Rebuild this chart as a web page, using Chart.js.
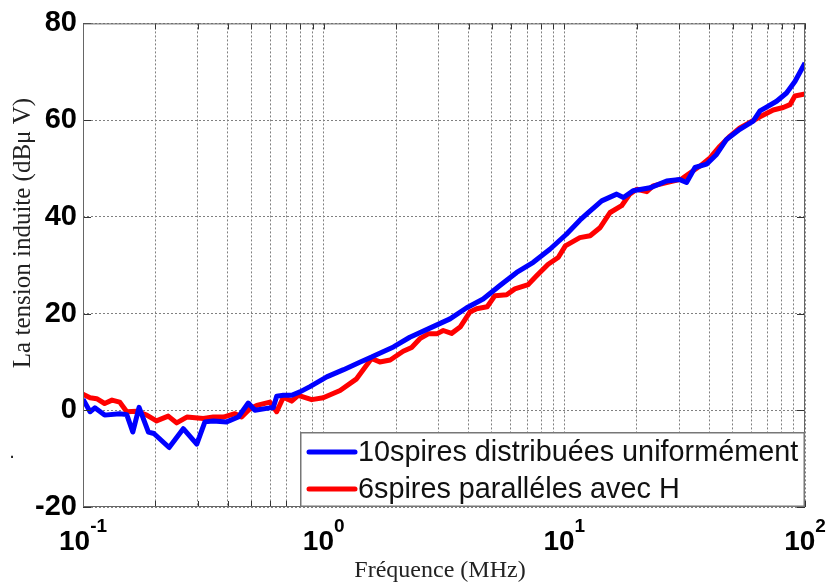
<!DOCTYPE html>
<html>
<head>
<meta charset="utf-8">
<script src="https://cdn.jsdelivr.net/npm/chart.js@4"></script>
<style>
  body { margin: 0; background: #fff; }
  canvas { display: block; }
</style>
</head>
<body>
<canvas id="myChart" width="830" height="585"></canvas>
<script>
// frequency (MHz) / induced voltage (dBuV) for the two coil layouts
const blueFreq = [0.100, 0.107, 0.112, 0.123, 0.142, 0.152, 0.161, 0.171, 0.187, 0.197,
  0.228, 0.261, 0.297, 0.321, 0.348, 0.395, 0.442, 0.486, 0.518, 0.598,
  0.617, 0.638, 0.680, 0.736, 0.797, 0.877, 1.03, 1.21, 1.42, 1.58,
  1.95, 2.28, 2.85, 3.35, 3.93, 4.60, 5.40, 6.34, 7.43, 8.71,
  10.2, 11.6, 12.4, 14.3, 16.5, 17.6, 19.3, 22.7, 26.6, 30.2,
  32.2, 34.9, 39.0, 42.9, 47.2, 53.6, 60.9, 65.0, 69.2, 76.2,
  83.8, 90.8, 100];
const blueVal = [2.3, -0.3, 0.5, -1.0, -0.7, -0.9, -4.5, 0.6, -4.5, -4.8,
  -7.7, -3.8, -7.0, -2.4, -2.2, -2.4, -1.4, 1.5, 0.0, 0.5,
  0.5, 2.9, 3.1, 3.1, 3.8, 4.9, 6.9, 8.4, 10.0, 11.0,
  13.1, 15.1, 17.3, 18.9, 21.2, 23.0, 25.8, 28.5, 30.6, 33.3,
  36.4, 39.3, 40.6, 43.3, 44.7, 44.0, 45.4, 46.0, 47.4, 47.7,
  47.1, 50.2, 50.9, 52.9, 56.0, 58.1, 59.8, 61.9, 62.7, 63.9,
  65.6, 68.0, 71.8];

const redFreq = [0.100, 0.107, 0.114, 0.123, 0.132, 0.142, 0.152, 0.167, 0.184, 0.202,
  0.226, 0.245, 0.270, 0.316, 0.348, 0.383, 0.428, 0.456, 0.494, 0.527,
  0.598, 0.638, 0.680, 0.736, 0.784, 0.892, 0.996, 1.17, 1.37, 1.58,
  1.71, 1.89, 2.14, 2.32, 2.51, 2.72, 2.95, 3.14, 3.40, 3.69,
  4.05, 4.32, 4.78, 5.15, 5.76, 6.23, 7.08, 7.67, 8.57, 9.43,
  10.1, 11.6, 12.8, 14.1, 15.5, 17.3, 18.7, 20.0, 22.0, 23.4,
  26.6, 30.7, 32.7, 36.6, 40.3, 44.3, 48.8, 53.6, 59.0, 65.0,
  73.8, 81.2, 86.6, 90.8, 100];
const redVal = [3.3, 2.6, 2.4, 1.4, 2.1, 1.7, -0.3, -0.2, -1.0, -2.2,
  -1.2, -2.6, -1.4, -1.7, -1.4, -1.4, -0.7, -1.4, 0.3, 1.0,
  1.7, -0.3, 2.7, 1.9, 3.1, 2.2, 2.6, 4.1, 6.5, 10.7,
  10.0, 10.4, 12.2, 13.0, 14.8, 15.8, 15.8, 16.5, 15.9, 17.2,
  20.3, 21.0, 21.4, 23.7, 23.9, 25.1, 26.0, 27.8, 30.2, 31.6,
  34.0, 35.7, 36.1, 37.8, 40.9, 42.3, 44.7, 45.7, 45.2, 46.4,
  47.1, 47.8, 48.8, 50.5, 52.2, 54.6, 56.7, 58.4, 59.5, 60.7,
  62.1, 62.6, 63.2, 65.0, 65.4];

const seriesNames = ['10spires distribuées uniformément', '6spires paralléles avec H'];

// log grid: 1..9 in every decade
const xGrid = [0.1, 0.2, 0.3, 0.4, 0.5, 0.6, 0.7, 0.8, 0.9,
  1, 2, 3, 4, 5, 6, 7, 8, 9,
  10, 20, 30, 40, 50, 60, 70, 80, 90, 100];
const xDecades = [0.1, 1, 10, 100];
const xExponents = ['-1', '0', '1', '2'];
const yTicks = [-20, 0, 20, 40, 60, 80];

const SANS = "'Liberation Sans', Arial, sans-serif";
const SERIF = "'Liberation Serif', 'Times New Roman', serif";

const toPoints = (xs, ys) => xs.map((f, i) => ({ x: f, y: ys[i] }));

// dotted grid, shared by both axes (v4 takes the grid dash from border.dash)
const gridOpts = { color: '#808080', lineWidth: 1, drawTicks: false };
const borderOpts = { display: false, dash: [2, 2] };

const decor = {
  id: 'decor',
  afterDatasetsDraw(chart) {
    const { ctx, chartArea: a, scales: { x, y } } = chart;
    ctx.save();
    ctx.strokeStyle = '#333';
    ctx.lineWidth = 1;
    ctx.beginPath();
    xGrid.forEach(v => {
      const px = Math.round(x.getPixelForValue(v)) + 0.5;
      ctx.moveTo(px, a.bottom); ctx.lineTo(px, a.bottom - 6);
      ctx.moveTo(px, a.top); ctx.lineTo(px, a.top + 6);
    });
    yTicks.forEach(v => {
      const py = Math.round(y.getPixelForValue(v)) + 0.5;
      ctx.moveTo(a.left, py); ctx.lineTo(a.left + 8, py);
      ctx.moveTo(a.right, py); ctx.lineTo(a.right - 8, py);
    });
    ctx.stroke();
    ctx.strokeStyle = '#666';
    ctx.strokeRect(a.left + 0.5, a.top + 0.5, a.width - 1, a.height - 1);
    ctx.restore();
  },
  afterDraw(chart) {
    const { ctx, chartArea: a, scales: { x } } = chart;
    ctx.save();

    // x tick labels as powers of ten
    ctx.fillStyle = '#000';
    ctx.textBaseline = 'alphabetic';
    ctx.textAlign = 'left';
    xDecades.forEach((v, i) => {
      const px = x.getPixelForValue(v);
      ctx.font = 'bold 28px ' + SANS;
      const wBase = ctx.measureText('10').width;
      ctx.font = 'bold 19px ' + SANS;
      const wExp = ctx.measureText(xExponents[i]).width;
      const left = px - (wBase + wExp) / 2;
      ctx.font = 'bold 28px ' + SANS;
      ctx.fillText('10', left, 550);
      ctx.font = 'bold 19px ' + SANS;
      ctx.fillText(xExponents[i], left + wBase, 532);
    });

    // axis titles
    ctx.fillStyle = '#222';
    ctx.font = '24px ' + SERIF;
    ctx.textAlign = 'center';
    ctx.fillText('Fréquence (MHz)', 440, 577);
    ctx.save();
    ctx.translate(30, 233);
    ctx.rotate(-Math.PI / 2);
    ctx.font = '25px ' + SERIF;
    ctx.fillText('La tension induite (dBμ V)', 0, 0);
    ctx.restore();
    ctx.font = '20px ' + SANS;
    ctx.fillText('.', 12, 458);

    // legend box in the lower right corner
    const bw = 505, bh = 75;
    const bx = a.right - bw, by = a.bottom - bh;
    ctx.fillStyle = '#fff';
    ctx.fillRect(bx, by, bw, bh);
    ctx.strokeStyle = '#777';
    ctx.lineWidth = 1.5;
    ctx.strokeRect(bx + 0.75, by + 0.75, bw - 1.5, bh - 1.5);
    ctx.textAlign = 'left';
    ctx.textBaseline = 'middle';
    ctx.font = '28.8px ' + SANS;
    chart.data.datasets.forEach((ds, i) => {
      const ly = by + 20 + i * 37;
      ctx.strokeStyle = ds.borderColor;
      ctx.lineWidth = 5;
      ctx.lineCap = 'round';
      ctx.beginPath();
      ctx.moveTo(bx + 9, ly);
      ctx.lineTo(bx + 55, ly);
      ctx.stroke();
      ctx.fillStyle = '#111';
      ctx.fillText(ds.label, bx + 58, ly + 1);
    });
    ctx.restore();
  }
};

const ctx = document.getElementById('myChart').getContext('2d');

new Chart(ctx, {
  type: 'line',
  data: {
    datasets: [
      {
        label: seriesNames[0],
        data: toPoints(blueFreq, blueVal),
        borderColor: '#0000ff',
        borderWidth: 5,
        pointRadius: 0,
        borderJoinStyle: 'round'
      },
      {
        label: seriesNames[1],
        data: toPoints(redFreq, redVal),
        borderColor: '#ff0000',
        borderWidth: 5,
        pointRadius: 0,
        borderJoinStyle: 'round'
      }
    ]
  },
  options: {
    responsive: false,
    animation: false,
    devicePixelRatio: 1,
    layout: { padding: { top: 22, right: 25, left: 0, bottom: 0 } },
    plugins: { legend: { display: false }, tooltip: { enabled: false } },
    scales: {
      x: {
        type: 'logarithmic',
        min: 0.1,
        max: 100,
        afterBuildTicks: scale => { scale.ticks = xGrid.map(v => ({ value: v })); },
        afterFit: scale => { scale.height = 78; },
        ticks: { display: false },
        border: borderOpts,
        grid: gridOpts
      },
      y: {
        min: -20,
        max: 80,
        afterBuildTicks: scale => { scale.ticks = yTicks.map(v => ({ value: v })); },
        afterFit: scale => { scale.width = 83; },
        ticks: {
          color: '#000',
          padding: 6,
          font: { family: SANS, size: 29, weight: 'bold' }
        },
        border: borderOpts,
        grid: gridOpts
      }
    }
  },
  plugins: [decor]
});
</script>
</body>
</html>
